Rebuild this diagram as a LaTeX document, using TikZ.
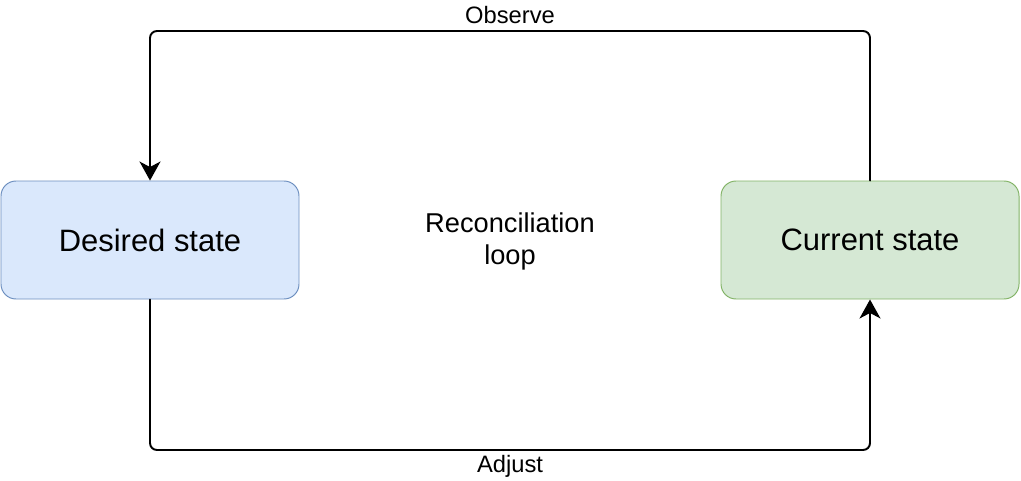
\documentclass[tikz,border=0pt]{standalone}
\usepackage{fontspec}
\setmainfont{Liberation Sans}
\usepackage{xcolor}
\definecolor{blafill}{HTML}{DAE8FC}
\definecolor{bladraw}{HTML}{6C8EBF}
\definecolor{grefill}{HTML}{D5E8D4}
\definecolor{gredraw}{HTML}{82B366}
\usepackage{tikz}
\usetikzlibrary{arrows.meta}

\begin{document}
\begin{tikzpicture}[line cap=round]
	\tikzstyle{state}=[rectangle,rounded corners=0.3cm,line width=0.55pt,minimum width=5.96cm,minimum height=2.36cm,font=\fontsize{17.6}{21}\selectfont];
	\tikzstyle{flow}=[line width=1.1pt,rounded corners=0.14cm,-{Stealth[length=0.38cm,width=0.42cm,inset=0.11cm]}];
	\tikzstyle{lbl}=[inner sep=0pt,anchor=base,font=\fontsize{13.5}{16}\selectfont];
%<--------------------------------------------------------------------------->%

	\useasboundingbox (0,0) rectangle (20.42,9.6);
	\coordinate (D)    at (3,4.8);
	\coordinate (C)    at (17.4,4.8);
	\coordinate (top)  at (10.2,8.98);
	\coordinate (bot)  at (10.2,0.6);
	%% Boxes
	\node[state,fill=blafill,draw=bladraw] (des) at (D) {Desired state};
	\node[state,fill=grefill,draw=gredraw] (cur) at (C) {Current state};
	\node[align=center,font=\fontsize{15.5}{18.2}\selectfont] (loop) at (10.2,4.78) {Reconciliation\\loop};
	%% Loop
	\draw[flow] (cur.north) |- (top) -| (des.north);
	\draw[flow] (des.south) |- (bot) -| (cur.south);
	%% Labels
	\node[lbl] (obs) at (10.2,9.133) {Observe};
	\node[lbl] (adj) at (10.2,0.16) {Adjust};
\end{tikzpicture}
\end{document}
